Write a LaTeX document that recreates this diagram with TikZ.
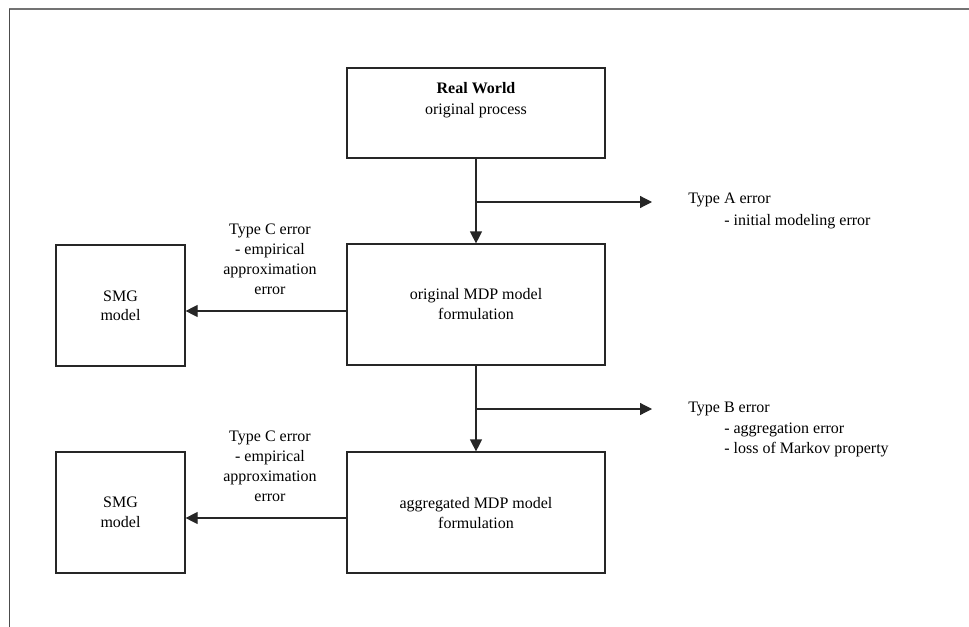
\documentclass[tikz,border=0pt]{standalone}
\usepackage{fontspec}
\setmainfont{Liberation Serif}
\usetikzlibrary{arrows.meta}
\begin{document}
\begin{tikzpicture}[x=0.75pt,y=-0.75pt,
  box/.style={draw=black!85,line width=0.9pt,inner sep=0pt},
  lbl/.style={inner sep=0pt,font=\fontsize{12pt}{15pt}\selectfont,anchor=base},
  lblw/.style={inner sep=0pt,font=\fontsize{12pt}{15pt}\selectfont,anchor=base west},
  conn/.style={draw=black!85,line width=0.9pt},
  arr/.style={conn,-{Triangle[length=9pt,width=9pt]}}]
\useasboundingbox (0,0) rectangle (969,627);
% frame
\draw[black!55,line width=1.3pt] (9,9) -- (969,9);
\draw[black!70,line width=0.7pt] (9,9) -- (9,627);
% boxes
\node[box,minimum width=258*0.75pt,minimum height=90*0.75pt] (rw) at (476,113) {};
\node[box,minimum width=258*0.75pt,minimum height=121*0.75pt] (mdp1) at (476,304.5) {};
\node[box,minimum width=258*0.75pt,minimum height=121*0.75pt] (mdp2) at (476,512.5) {};
\node[box,minimum width=129*0.75pt,minimum height=121*0.75pt] (smg1) at (120.5,305.5) {};
\node[box,minimum width=129*0.75pt,minimum height=121*0.75pt] (smg2) at (120.5,512.5) {};
% box texts
\node[lbl] (rwa) at (476,94) {\textbf{Real World}};
\node[lbl] (rwb) at (476,115) {original process};
\node[lbl] (m1a) at (476,299) {original MDP model};
\node[lbl] (m1b) at (476,319) {formulation};
\node[lbl] (m2a) at (476,508) {aggregated MDP model};
\node[lbl] (m2b) at (476,528) {formulation};
\node[lbl] (s1a) at (120.5,301) {SMG};
\node[lbl] (s1b) at (120.5,320) {model};
\node[lbl] (s2a) at (120.5,507) {SMG};
\node[lbl] (s2b) at (120.5,527) {model};
% error labels
\node[lblw] (ta1) at (688,204) {Type A error};
\node[lblw] (ta2) at (724,225) {- initial modeling error};
\node[lblw] (tb1) at (688,412) {Type B error};
\node[lblw] (tb2) at (724,433) {- aggregation error};
\node[lblw] (tb3) at (724,453) {- loss of Markov property};
\node[lbl] (tc1a) at (270,234) {Type C error};
\node[lbl] (tc1b) at (270,254) {- empirical};
\node[lbl] (tc1c) at (270,274) {approximation};
\node[lbl] (tc1d) at (270,294) {error};
\node[lbl] (tc2a) at (270,441) {Type C error};
\node[lbl] (tc2b) at (270,461) {- empirical};
\node[lbl] (tc2c) at (270,481) {approximation};
\node[lbl] (tc2d) at (270,501) {error};
% connectors
\coordinate (brA) at (476,202);
\coordinate (endA) at (652,202);
\coordinate (brB) at (476,409);
\coordinate (endB) at (652,409);
\draw[arr] (rw.south) -- (mdp1.north);
\draw[arr] (brA) -- (endA);
\draw[arr] (mdp1.south) -- (mdp2.north);
\draw[arr] (brB) -- (endB);
\draw[arr] (mdp1.west |- 0,311) -- (smg1.east |- 0,311);
\draw[arr] (mdp2.west |- 0,518) -- (smg2.east |- 0,518);
\end{tikzpicture}
\end{document}
